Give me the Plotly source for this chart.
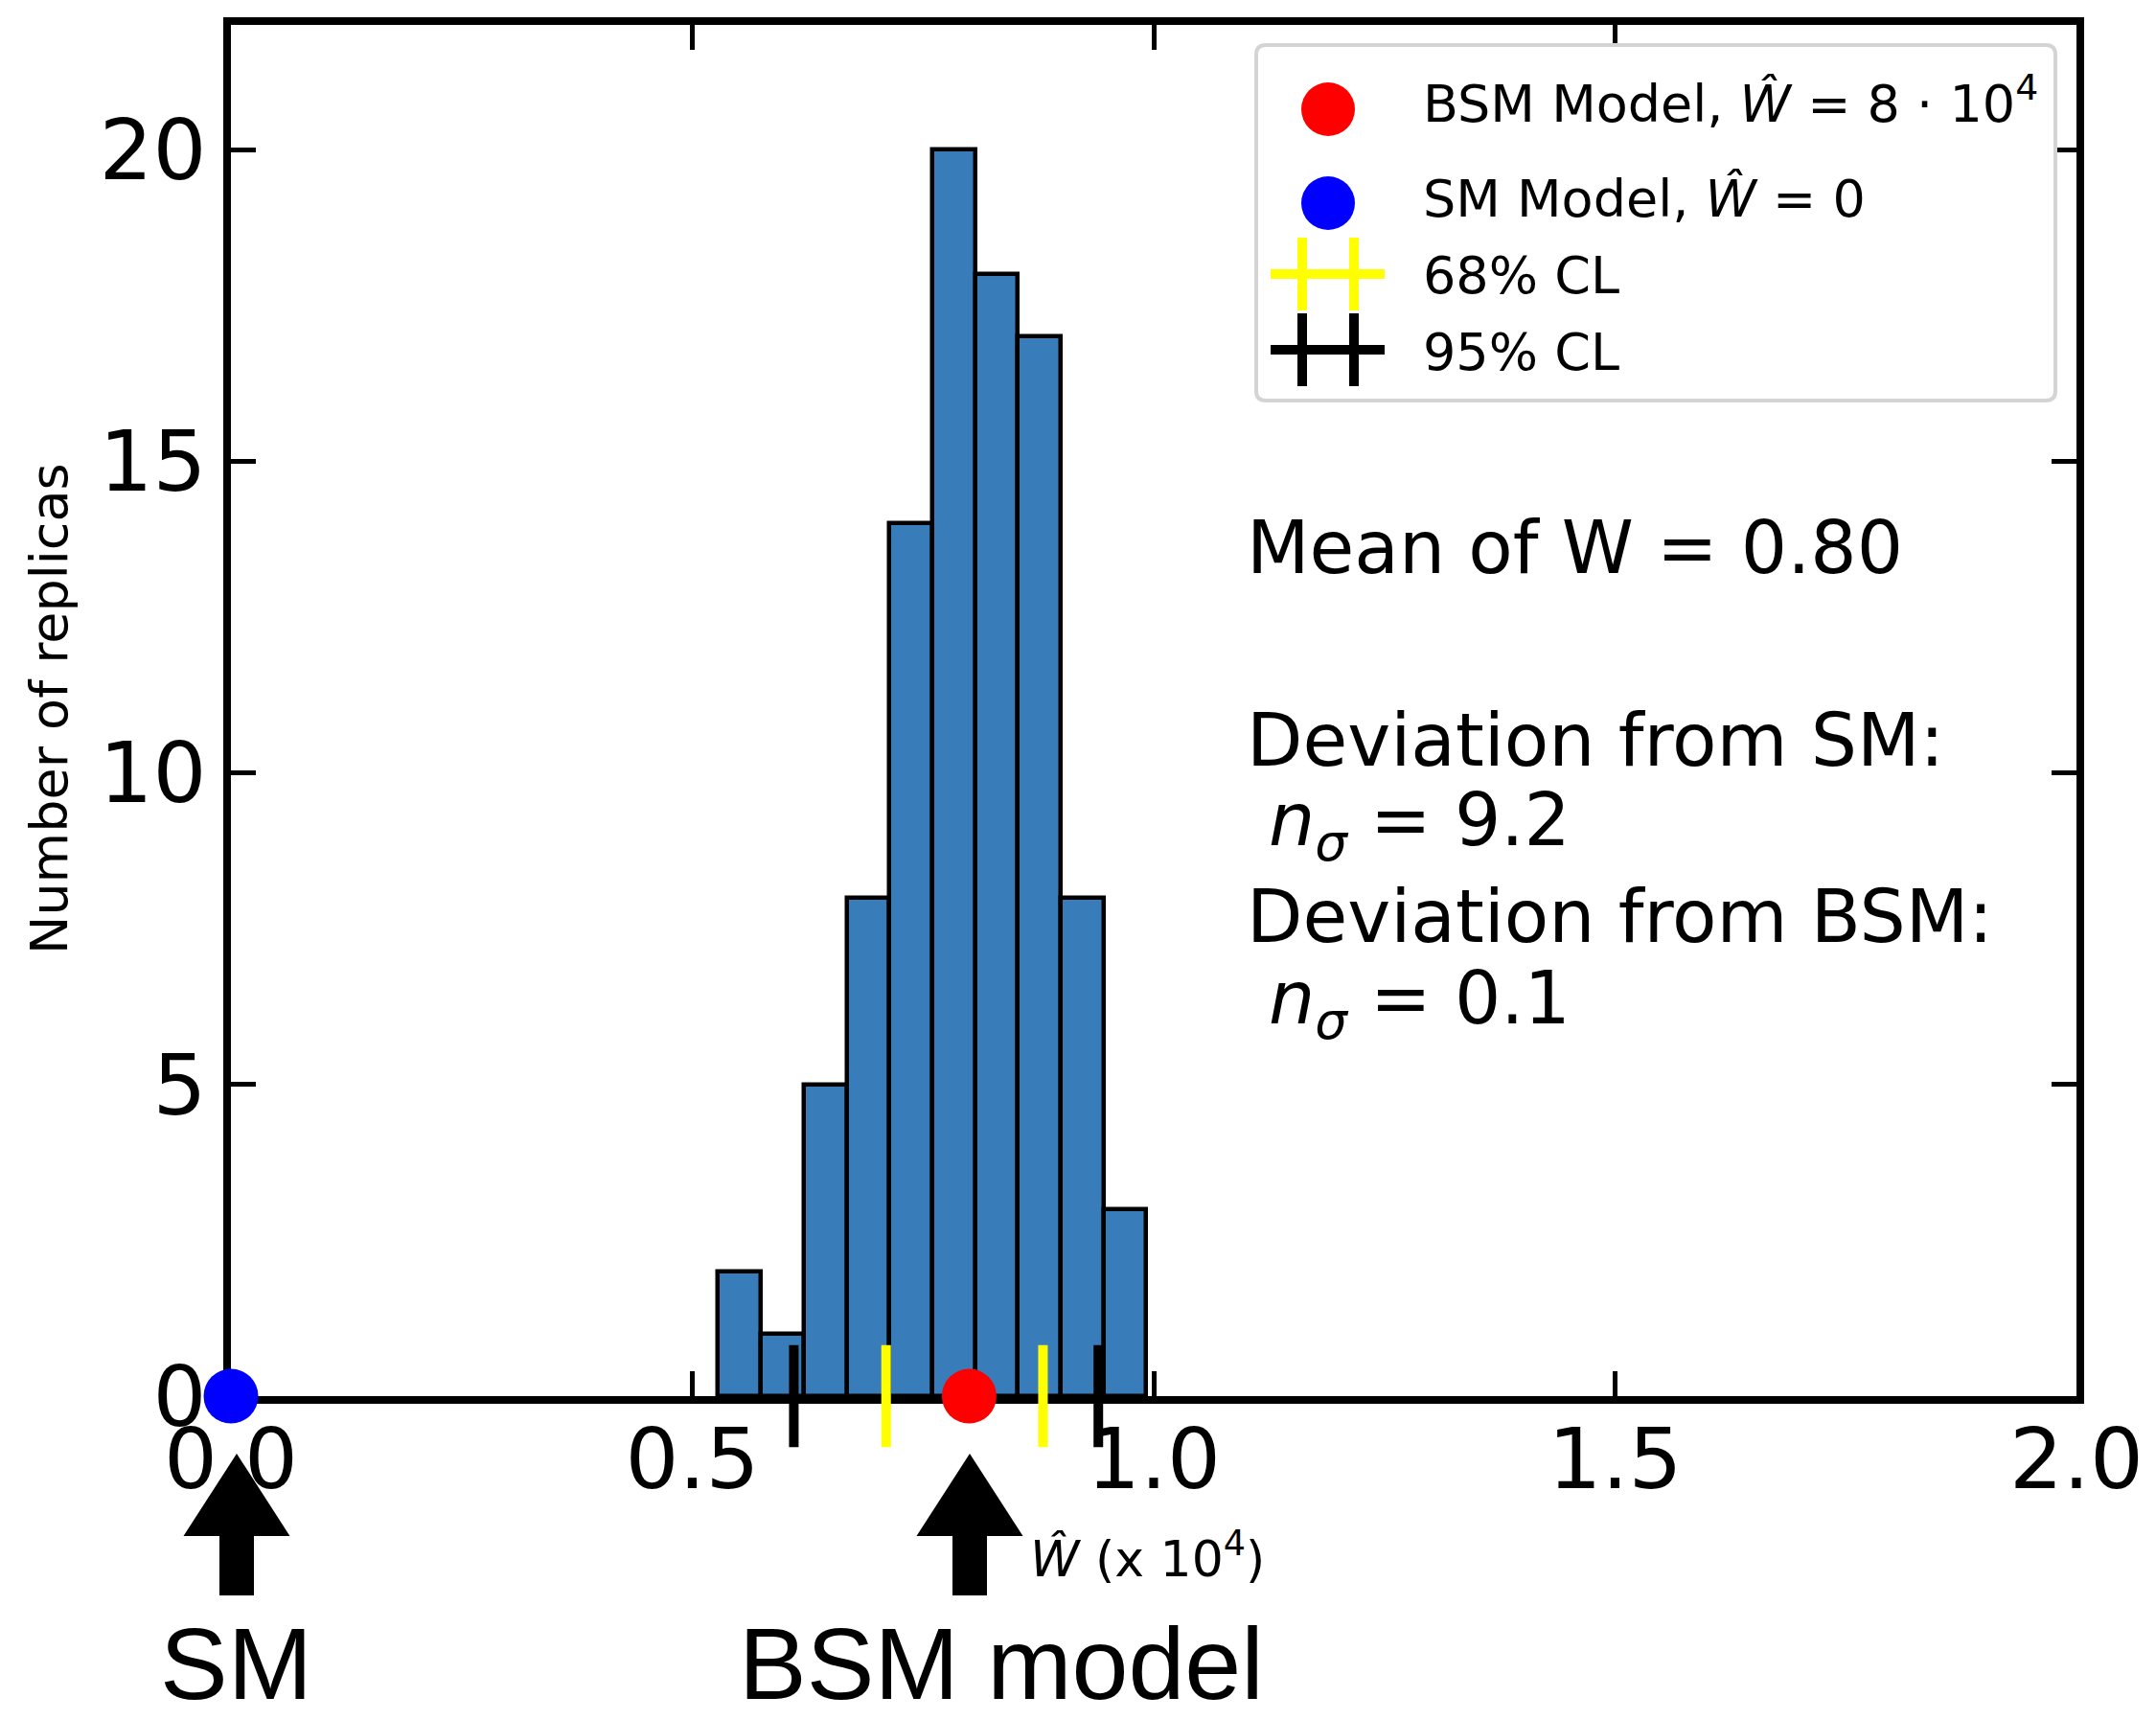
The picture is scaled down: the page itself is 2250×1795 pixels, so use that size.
import plotly.graph_objects as go

# ---------------- data ----------------
bin_edges = [0.528, 0.5744, 0.6208, 0.6672, 0.7136, 0.760, 0.8064, 0.8528, 0.8992, 0.9456, 0.992]
counts = [2, 1, 5, 8, 14, 20, 18, 17, 8, 3]
w_sm = 0.0
w_bsm = 0.8
cl68 = [0.710, 0.880]
cl95 = [0.610, 0.940]
x_ticks = [0.0, 0.5, 1.0, 1.5, 2.0]
y_ticks = [0, 5, 10, 15, 20]
mean_w = 0.80
nsigma_sm = 9.2
nsigma_bsm = 0.1
legend_labels = ["BSM Model, <i>Ŵ</i> = 8 · 10<sup>4</sup>",
                 "SM Model, <i>Ŵ</i> = 0",
                 "68% CL",
                 "95% CL"]
y_title = "Number of replicas"
x_unit = "<i>Ŵ</i> (x 10<sup>4</sup>)"
arrow_labels = ["SM", "BSM model"]

# ---------------- layout geometry ----------------
W, H = 2250, 1795
L, T = 241, 26
PW, PH = 1926, 1431
R = W - L - PW
B = H - T - PH
FONT = "DejaVu Sans"
BAR_COLOR = "#387db9"


def fx(px):
    return (px - L) / PW


def fy(py):
    return (T + PH - py) / PH


def path_from(points, close=True):
    s = ""
    for i, (a, b) in enumerate(points):
        s += ("M" if i == 0 else "L") + f"{fx(a):.6f},{fy(b):.6f} "
    return s + ("Z" if close else "")


centers = [(bin_edges[i] + bin_edges[i + 1]) / 2 for i in range(len(counts))]
widths = [bin_edges[i + 1] - bin_edges[i] for i in range(len(counts))]

fig = go.Figure()

fig.add_trace(go.Bar(
    x=centers, y=counts, width=widths,
    marker=dict(color=BAR_COLOR, line=dict(color="black", width=4.5)),
    showlegend=False, hoverinfo="skip"))

# confidence-level caps
fig.add_trace(go.Scatter(
    x=cl68, y=[0] * len(cl68), mode="markers", cliponaxis=False,
    marker=dict(symbol="line-ns", size=76, line=dict(color="#ffff00", width=10)),
    showlegend=False, hoverinfo="skip"))
fig.add_trace(go.Scatter(
    x=cl95, y=[0] * len(cl95), mode="markers", cliponaxis=False,
    marker=dict(symbol="line-ns", size=76, line=dict(color="black", width=10)),
    showlegend=False, hoverinfo="skip"))

# model points
fig.add_trace(go.Scatter(
    x=[w_bsm], y=[0], mode="markers", cliponaxis=False,
    marker=dict(size=57, color="#ff0000", line=dict(width=0)),
    showlegend=False, hoverinfo="skip"))
fig.add_trace(go.Scatter(
    x=[w_sm], y=[0], mode="markers", cliponaxis=False,
    marker=dict(size=57, color="#0000ff", line=dict(width=0)),
    showlegend=False, hoverinfo="skip"))

axis_common = dict(
    showline=True, linewidth=8, linecolor="black", mirror="ticks",
    ticks="inside", ticklen=26, tickwidth=5, tickcolor="black",
    showgrid=False, zeroline=False, layer="below traces",
    tickfont=dict(family=FONT, size=88, color="black"),
)
fig.update_xaxes(range=[0, 2], tickvals=x_ticks, ticklabelstandoff=-18,
                 ticktext=[f"{v:.1f}" for v in x_ticks], **axis_common)
fig.update_yaxes(range=[0, 22], tickvals=y_ticks,
                 ticktext=[str(v) for v in y_ticks], **axis_common)

shapes = []
annotations = []

# ---------------- legend (drawn manually) ----------------
x0, x1, y0, y1, r = 1311, 2145, 47, 418, 10
rx, ry = r / PW, r / PH
lp = (f"M{fx(x0)+rx:.6f},{fy(y0):.6f} L{fx(x1)-rx:.6f},{fy(y0):.6f} "
      f"Q{fx(x1):.6f},{fy(y0):.6f} {fx(x1):.6f},{fy(y0)-ry:.6f} "
      f"L{fx(x1):.6f},{fy(y1)+ry:.6f} "
      f"Q{fx(x1):.6f},{fy(y1):.6f} {fx(x1)-rx:.6f},{fy(y1):.6f} "
      f"L{fx(x0)+rx:.6f},{fy(y1):.6f} "
      f"Q{fx(x0):.6f},{fy(y1):.6f} {fx(x0):.6f},{fy(y1)+ry:.6f} "
      f"L{fx(x0):.6f},{fy(y0)-ry:.6f} "
      f"Q{fx(x0):.6f},{fy(y0):.6f} {fx(x0)+rx:.6f},{fy(y0):.6f} Z")
shapes.append(dict(type="path", path=lp, xref="paper", yref="paper",
                   fillcolor="white", line=dict(color="#d4d4d4", width=4), layer="above"))

for (cy, col) in [(114, "#ff0000"), (212, "#0000ff")]:
    shapes.append(dict(type="circle", xref="paper", yref="paper",
                       x0=fx(1386 - 28), x1=fx(1386 + 28), y0=fy(cy + 28), y1=fy(cy - 28),
                       fillcolor=col, line=dict(width=0), layer="above"))

for (cy, col) in [(286, "#ffff00"), (365, "black")]:
    shapes.append(dict(type="line", xref="paper", yref="paper",
                       x0=fx(1326), x1=fx(1445), y0=fy(cy), y1=fy(cy),
                       line=dict(color=col, width=10), layer="above"))
    for vx in (1359, 1413):
        shapes.append(dict(type="line", xref="paper", yref="paper",
                           x0=fx(vx), x1=fx(vx), y0=fy(cy - 38), y1=fy(cy + 38),
                           line=dict(color=col, width=10), layer="above"))

LFS = 54
# row 1 has a superscript -> anchor by bottom
annotations.append(dict(text=legend_labels[0], x=fx(1484), y=fy(128 + 0.236 * LFS),
                        xanchor="left", yanchor="bottom"))
for lab, base in zip(legend_labels[1:], [225, 305, 385]):
    annotations.append(dict(text=lab, x=fx(1484), y=fy(base - 0.928 * LFS),
                            xanchor="left", yanchor="top"))
for a in annotations:
    a.update(font=dict(family=FONT, size=LFS, color="black"))

# ---------------- statistics text ----------------
SFS = 76
stat_lines = [
    (f"Mean of W = {mean_w:.2f}", 1300, 597),
    ("Deviation from SM:", 1300, 798),
    (f"<i>n</i><sub><i>σ</i></sub> = {nsigma_sm:.1f}", 1323, 881),
    ("Deviation from BSM:", 1300, 982),
    (f"<i>n</i><sub><i>σ</i></sub> = {nsigma_bsm:.1f}", 1323, 1067),
]
for txt, lx, base in stat_lines:
    annotations.append(dict(text=txt, x=fx(lx), y=fy(base - 0.928 * SFS),
                            xanchor="left", yanchor="top",
                            font=dict(family=FONT, size=SFS, color="black")))

# y-axis title
annotations.append(dict(text=y_title, x=fx(51), y=fy(740), textangle=-90,
                        xanchor="center", yanchor="middle",
                        font=dict(family=FONT, size=54, color="black")))

# x unit label
annotations.append(dict(text=x_unit, x=fx(1074), y=fy(1646 + 0.236 * 52),
                        xanchor="left", yanchor="bottom",
                        font=dict(family=FONT, size=52, color="black")))

# ---------------- arrows + labels under the axis ----------------
for cx in (247, 1012):
    pts = [(cx, 1517), (cx + 55.5, 1603), (cx + 18, 1603), (cx + 18, 1665),
           (cx - 18, 1665), (cx - 18, 1603), (cx - 55.5, 1603)]
    shapes.append(dict(type="path", path=path_from(pts), xref="paper", yref="paper",
                       fillcolor="black", line=dict(width=0), layer="above"))

AFS = 106
for lab, cx in zip(arrow_labels, (246, 1045)):
    annotations.append(dict(text=lab, x=fx(cx), y=fy(1772 - 0.905 * AFS),
                            xanchor="center", yanchor="top",
                            font=dict(family="Liberation Sans", size=AFS, color="black")))

for a in annotations:
    a.update(xref="paper", yref="paper", showarrow=False, borderpad=0)

fig.update_layout(
    width=W, height=H,
    margin=dict(l=L, r=R, t=T, b=B, pad=0),
    paper_bgcolor="white", plot_bgcolor="white",
    bargap=0, showlegend=False,
    shapes=shapes, annotations=annotations,
)

fig.write_html("out.html",
               config={"displayModeBar": False},
               post_script="document.body.style.margin='0';document.body.style.overflow='hidden';")
